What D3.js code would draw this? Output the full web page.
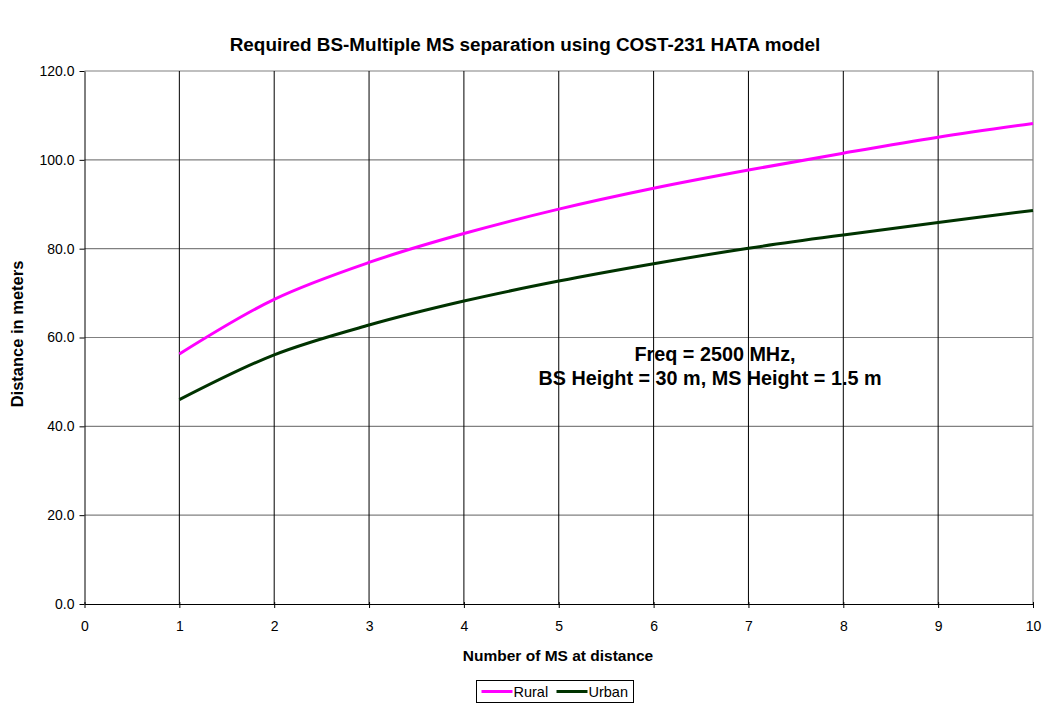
<!DOCTYPE html>
<html>
<head>
<meta charset="utf-8">
<script src="https://cdn.jsdelivr.net/npm/d3@7"></script>
<style>
  body { margin: 0; background: #fff; }
  svg { font-family: "Liberation Sans", Arial, sans-serif; }
</style>
</head>
<body>
<svg id="chart"></svg>
<script>
const msCount = [1, 2, 3, 4, 5, 6, 7, 8, 9, 10];
const rural = [56.3, 68.6, 76.9, 83.4, 88.9, 93.6, 97.7, 101.5, 105.1, 108.2];
const urban = [46.0, 56.1, 62.8, 68.2, 72.7, 76.6, 80.1, 83.1, 85.9, 88.6];
const xTicks = [0, 1, 2, 3, 4, 5, 6, 7, 8, 9, 10];
const yTicks = [0, 20, 40, 60, 80, 100, 120];

const width = 1046;
const height = 704;
const margin = {top: 71, right: 13, bottom: 100, left: 84.5};

const svg = d3.select("#chart")
              .attr("width", width)
              .attr("height", height);

const x = d3.scaleLinear().domain([0, 10]).range([margin.left, width - margin.right]);
const y = d3.scaleLinear().domain([0, 120]).range([height - margin.bottom, margin.top]);

// grid
svg.append("g")
   .selectAll("line")
   .data(yTicks.slice(1))
   .enter()
   .append("line")
   .attr("x1", x(0)).attr("x2", x(10))
   .attr("y1", d => y(d)).attr("y2", d => y(d))
   .attr("stroke", "#808080").attr("stroke-width", 1.2);

svg.append("g")
   .selectAll("line")
   .data(xTicks.slice(1, -1))
   .enter()
   .append("line")
   .attr("x1", d => x(d)).attr("x2", d => x(d))
   .attr("y1", y(0)).attr("y2", y(120))
   .attr("stroke", "#000").attr("stroke-width", 1);

svg.append("line")
   .attr("x1", x(10)).attr("x2", x(10))
   .attr("y1", y(0)).attr("y2", y(120))
   .attr("stroke", "#808080").attr("stroke-width", 1.2);

// axes
const xAxis = svg.append("g")
   .attr("transform", "translate(0," + y(0) + ")")
   .call(d3.axisBottom(x).tickValues(xTicks).tickSize(4).tickSizeOuter(0).tickPadding(13));

const yAxis = svg.append("g")
   .attr("transform", "translate(" + x(0) + ",0)")
   .call(d3.axisLeft(y).tickValues(yTicks).tickFormat(d3.format(".1f")).tickSize(5).tickSizeOuter(0).tickPadding(5));

[xAxis, yAxis].forEach(a => {
  a.selectAll("text").style("font-size", "14px").attr("fill", "#000");
  a.selectAll("line, path").attr("stroke", "#000");
  a.attr("font-family", null);
});
xAxis.selectAll(".tick line").attr("transform", "translate(0,-2)").attr("y2", 6);

// lines
const line = d3.line()
               .x((d, i) => x(msCount[i]))
               .y(d => y(d))
               .curve(d3.curveCatmullRom.alpha(0.5));

svg.append("path").datum(rural)
   .attr("d", line).attr("fill", "none")
   .attr("stroke", "#ff00ff").attr("stroke-width", 3);

svg.append("path").datum(urban)
   .attr("d", line).attr("fill", "none")
   .attr("stroke", "#003300").attr("stroke-width", 3);

// titles
svg.append("text")
   .attr("x", 525).attr("y", 51)
   .attr("text-anchor", "middle")
   .style("font-size", "18.9px").style("font-weight", "bold")
   .text("Required BS-Multiple MS separation using COST-231 HATA model");

svg.append("text")
   .attr("x", 558).attr("y", 661)
   .attr("text-anchor", "middle")
   .style("font-size", "15.5px").style("font-weight", "bold")
   .text("Number of MS at distance");

svg.append("text")
   .attr("transform", "translate(23,334) rotate(-90)")
   .attr("text-anchor", "middle")
   .style("font-size", "16.5px").style("font-weight", "bold")
   .text("Distance in meters");

// annotation
const note = svg.append("text")
   .attr("text-anchor", "middle")
   .style("font-size", "19.8px").style("font-weight", "bold");
note.append("tspan").attr("x", 715).attr("y", 361).text("Freq = 2500 MHz,");
note.append("tspan").attr("x", 710).attr("y", 385).text("BS Height = 30 m, MS Height = 1.5 m");

// legend
const legend = svg.append("g").attr("transform", "translate(476.5,680.5)");
legend.append("rect")
      .attr("width", 157).attr("height", 22)
      .attr("fill", "#fff").attr("stroke", "#000");
const items = [["Rural", "#ff00ff", 5], ["Urban", "#003300", 80]];
items.forEach(([name, color, ox]) => {
  legend.append("line")
        .attr("x1", ox).attr("x2", ox + 31)
        .attr("y1", 11).attr("y2", 11)
        .attr("stroke", color).attr("stroke-width", 3);
  legend.append("text")
        .attr("x", ox + 32).attr("y", 16.5)
        .style("font-size", "14.5px")
        .text(name);
});
</script>
</body>
</html>
